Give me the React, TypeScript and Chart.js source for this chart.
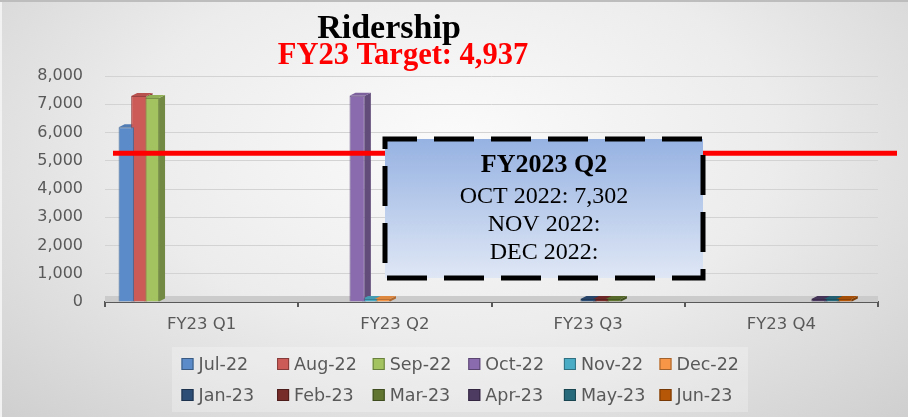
import React, { useEffect, useRef } from 'react';
import { Chart, registerables } from 'chart.js';

Chart.register(...registerables);

// ---- Data ----
const quarters = ['FY23 Q1', 'FY23 Q2', 'FY23 Q3', 'FY23 Q4'];
const months = ['Jul-22', 'Aug-22', 'Sep-22', 'Oct-22', 'Nov-22', 'Dec-22', 'Jan-23', 'Feb-23', 'Mar-23', 'Apr-23', 'May-23', 'Jun-23'];
const q1Ridership = [6190, 7290, 7220]; // Jul, Aug, Sep
const q2Ridership = [7302, 0, 0]; // Oct, Nov, Dec
const q3Ridership = [0, 0, 0]; // Jan, Feb, Mar
const q4Ridership = [0, 0, 0]; // Apr, May, Jun
const monthColors = ['#5b8bc8', '#cc5b58', '#a2c35f', '#8a6cae', '#4bacc6', '#f79646', '#2c4d75', '#772c2a', '#5f7530', '#4d3b62', '#276a7c', '#b65708'];
const yTickValues = [0, 1000, 2000, 3000, 4000, 5000, 6000, 7000, 8000];
const targetLineLevel = [5265];
const chartTitle = 'Ridership';
const chartSubtitle = 'FY23 Target: 4,937';
const calloutLines = ['FY2023 Q2', 'OCT 2022: 7,302', 'NOV 2022:', 'DEC 2022:'];

function shade(hex: string, amt: number): string {
  const n = parseInt(hex.slice(1), 16);
  const r = n >> 16, g = (n >> 8) & 255, b = n & 255;
  const f = (c: number) => (amt < 0 ? Math.round(c * (1 + amt)) : Math.round(c + (255 - c) * amt));
  return `rgb(${f(r)},${f(g)},${f(b)})`;
}

const quarterValues = [q1Ridership, q2Ridership, q3Ridership, q4Ridership];

const BAR_PCT = 1.22;
const CAT_PCT = 0.845;

const threeDPlugin = {
  id: 'threeD',
  beforeDatasetsDraw(chart: any) {
    const { ctx, chartArea } = chart;
    ctx.save();
    // floor
    ctx.fillStyle = '#cbcbcb';
    ctx.fillRect(chartArea.left, chartArea.bottom - 6, chartArea.right - chartArea.left, 6);
    // side and top faces
    const d = 6, dy = 3;
    chart.data.datasets.forEach((ds: any, i: number) => {
      if (i >= months.length) return;
      const meta = chart.getDatasetMeta(i);
      meta.data.forEach((el: any, j: number) => {
        if (ds.data[j] === null || ds.data[j] === undefined) return;
        const { x, y, base, width } = el.getProps(['x', 'y', 'base', 'width'], true);
        const left = x - width / 2, right = x + width / 2;
        ctx.fillStyle = shade(monthColors[i], -0.3);
        ctx.beginPath();
        ctx.moveTo(right, y);
        ctx.lineTo(right + d, y - dy);
        ctx.lineTo(right + d, base - dy);
        ctx.lineTo(right, base);
        ctx.closePath();
        ctx.fill();
        ctx.fillStyle = shade(monthColors[i], -0.1);
        ctx.beginPath();
        ctx.moveTo(left, y);
        ctx.lineTo(left + d, y - dy);
        ctx.lineTo(right + d, y - dy);
        ctx.lineTo(right, y);
        ctx.closePath();
        ctx.fill();
      });
    });
    ctx.restore();
  },
};

const overlayPlugin = {
  id: 'overlay',
  afterDraw(chart: any) {
    const { ctx, chartArea, scales } = chart;
    ctx.save();

    // target line
    const yT = scales.y.getPixelForValue(targetLineLevel[0]);
    ctx.strokeStyle = '#ff0000';
    ctx.lineWidth = 5;
    ctx.beginPath();
    ctx.moveTo(chartArea.left + 8, yT);
    ctx.lineTo(chartArea.right + 19, yT);
    ctx.stroke();

    // callout box
    const bx = 385, by = 139, bw = 318, bh = 139;
    const grad = ctx.createLinearGradient(0, by, 0, by + bh);
    grad.addColorStop(0, '#96b2e2');
    grad.addColorStop(1, '#dfe7f5');
    ctx.fillStyle = grad;
    ctx.fillRect(bx, by, bw, bh);
    ctx.strokeStyle = '#000';
    ctx.lineWidth = 5;
    ctx.setLineDash([40, 17]);
    ctx.lineDashOffset = 8;
    ctx.strokeRect(bx, by, bw, bh);
    ctx.setLineDash([]);

    ctx.fillStyle = '#000';
    ctx.textAlign = 'center';
    ctx.textBaseline = 'middle';
    const cx = bx + bw / 2;
    const lineYs = [165, 197, 225, 253];
    calloutLines.forEach((t, i) => {
      ctx.font = i === 0 ? 'bold 26px "Liberation Serif"' : '24px "Liberation Serif"';
      ctx.fillText(t, cx, lineYs[i]);
    });

    // titles
    ctx.textBaseline = 'alphabetic';
    ctx.font = 'bold 34px "Liberation Serif"';
    ctx.fillStyle = '#000';
    ctx.fillText(chartTitle, 389, 38);
    ctx.font = 'bold 30.5px "Liberation Serif"';
    ctx.fillStyle = '#ff0000';
    ctx.fillText(chartSubtitle, 403, 64);

    // legend
    ctx.fillStyle = 'rgba(255,255,255,0.25)';
    ctx.fillRect(172, 347, 576, 65);
    const colW = 95.6, x0 = 181.5, rowY = [364, 395];
    ctx.textAlign = 'left';
    ctx.textBaseline = 'middle';
    ctx.font = '17.5px "DejaVu Sans"';
    months.forEach((m, i) => {
      const r = Math.floor(i / 6), c = i % 6;
      const x = x0 + c * colW, y = rowY[r];
      ctx.fillStyle = monthColors[i];
      ctx.fillRect(x, y - 6, 12, 12);
      ctx.strokeStyle = shade(monthColors[i], -0.35);
      ctx.lineWidth = 1;
      ctx.strokeRect(x + 0.5, y - 5.5, 11, 11);
      ctx.fillStyle = '#595959';
      ctx.fillText(chart.data.datasets[i].label, x + 17, y + 1);
    });

    ctx.restore();
  },
};

export default function App() {
  const ref = useRef<HTMLCanvasElement | null>(null);

  useEffect(() => {
    if (!ref.current) return;
    const datasets: any[] = months.map((m, i) => {
      const q = Math.floor(i / 3), k = i % 3;
      return {
        label: m,
        data: quarters.map((_, qi) => (qi === q ? quarterValues[qi][k] : null)),
        backgroundColor: monthColors[i],
        borderColor: shade(monthColors[i], -0.25),
        borderWidth: 1,
        barPercentage: BAR_PCT,
        categoryPercentage: CAT_PCT,
        minBarLength: 3,
      };
    });
    // spacer slot (no data) matching the reference's left-shifted grouping
    datasets.push({
      label: '',
      data: quarters.map(() => null),
      backgroundColor: 'transparent',
      barPercentage: BAR_PCT,
      categoryPercentage: CAT_PCT,
    });

    const chart = new Chart(ref.current, {
      type: 'bar',
      data: { labels: quarters, datasets },
      options: {
        responsive: false,
        animation: false,
        layout: { padding: { left: 0, right: 30, top: 76, bottom: 75 } },
        plugins: {
          legend: { display: false },
          tooltip: { enabled: false },
          title: { display: false },
        },
        scales: {
          x: {
            grid: {
              display: true,
              drawOnChartArea: false,
              drawTicks: true,
              tickLength: 5,
              color: '#595959',
              lineWidth: 2,
              offset: true,
            },
            border: { display: true, color: '#595959', width: 2 },
            ticks: {
              color: '#595959',
              font: { family: 'DejaVu Sans', size: 16.5 },
              padding: 8,
              maxRotation: 0,
            },
            afterFit: (s: any) => {
              s.height = 40;
            },
          },
          y: {
            min: 0,
            max: 8000,
            afterBuildTicks: (s: any) => {
              s.ticks = yTickValues.map((v) => ({ value: v }));
            },
            ticks: {
              callback: (v: any) => Number(v).toLocaleString('en-US'),
              color: '#595959',
              font: { family: 'DejaVu Sans', size: 16 },
              padding: 22,
            },
            grid: { color: '#d3d3d3', drawTicks: false },
            border: { display: false },
            afterFit: (s: any) => {
              s.width = 105;
            },
          },
        },
      } as any,
      plugins: [threeDPlugin, overlayPlugin],
    });
    return () => chart.destroy();
  }, []);

  return (
    <div
      style={{
        position: 'absolute',
        left: 0,
        top: 0,
        width: 908,
        height: 417,
        background: 'radial-gradient(ellipse at 50% 35%, #fbfbfb 0%, #ececec 50%, #cfcfcf 100%)',
        boxShadow: 'inset 0 2px 0 #bdbdbd, inset 2px 0 0 #f2f2f2',
      }}
    >
      <canvas ref={ref} width={908} height={417} style={{ display: 'block' }} />
    </div>
  );
}
